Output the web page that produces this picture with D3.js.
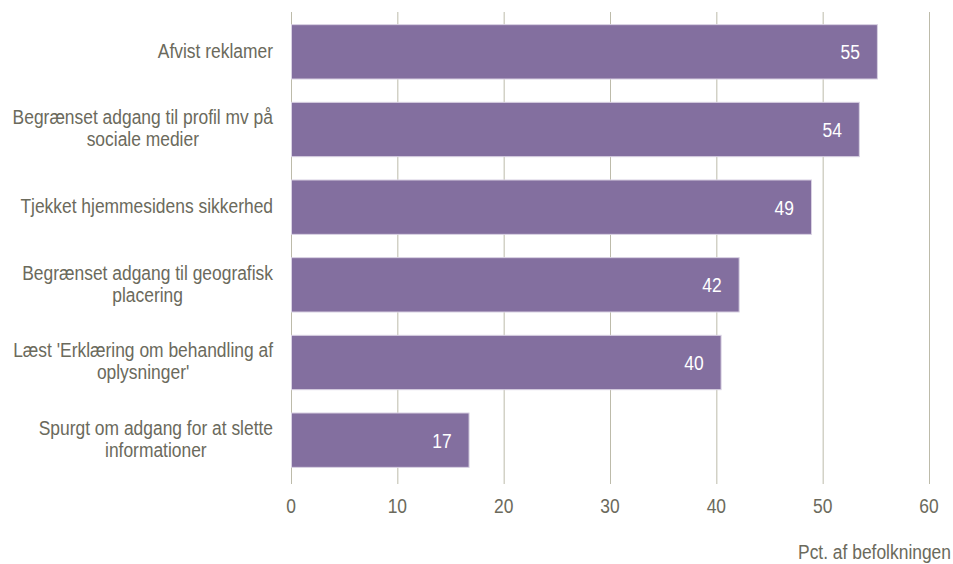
<!DOCTYPE html>
<html><head><meta charset="utf-8">
<script src="https://cdn.jsdelivr.net/npm/d3@7"></script>
<style>
body{margin:0;background:#fff;}
text{font-family:"Liberation Sans Narrow","Liberation Sans",Arial,sans-serif;}
</style></head>
<body><svg id="c" width="953" height="564"></svg>
<script>
const categories = [
  ["Afvist reklamer"],
  ["Begrænset adgang til profil mv på","sociale medier"],
  ["Tjekket hjemmesidens sikkerhed"],
  ["Begrænset adgang til geografisk","placering"],
  ["Læst 'Erklæring om behandling af","oplysninger'"],
  ["Spurgt om adgang for at slette","informationer"]
];
const values = [55.1, 53.4, 48.9, 42.1, 40.4, 16.7];
const valueLabels = ["55","54","49","42","40","17"];
const ticks = [0,10,20,30,40,50,60];
const axisTitle = "Pct. af befolkningen";

const svg = d3.select("#c");
const x = d3.scaleLinear().domain([0,60]).range([291,929]);
const y = d3.scaleBand().domain(d3.range(categories.length)).range([13,479]).paddingInner(0.3).paddingOuter(0.15);
const textCol = "#6b6a5c", gridCol = "#bdbbaa", barCol = "#836f9f";
const FS = 21, SX = 0.83;

function narrowText(parent, px, py, str, anchor, fill){
  const g = parent.append("g").attr("transform",`translate(${px},${py}) scale(${SX},1)`);
  return g.append("text").attr("x",0).attr("y",0).attr("dy","0.35em")
    .attr("text-anchor",anchor).attr("fill",fill).attr("font-size",FS).text(str);
}

// gridlines
svg.append("g").selectAll("line").data(ticks).join("line")
  .attr("x1",d=>x(d)+0.5).attr("x2",d=>x(d)+0.5).attr("y1",12).attr("y2",484)
  .attr("stroke",gridCol).attr("stroke-width",1);

// bars
svg.append("g").selectAll("rect").data(values).join("rect")
  .attr("x",x(0)+0.5).attr("y",(d,i)=>y(i)).attr("width",d=>x(d)-x(0)).attr("height",y.bandwidth())
  .attr("fill",barCol).attr("stroke","#d9d2e3").attr("stroke-width",1);

// value labels
const vg = svg.append("g");
values.forEach((d,i)=>narrowText(vg, x(d)-17, y(i)+y.bandwidth()/2, valueLabels[i], "end", "#fff"));

// tick labels
const tg = svg.append("g");
ticks.forEach(d=>narrowText(tg, x(d), 506, d, "middle", textCol));

// axis title
narrowText(svg, 951, 552, axisTitle, "end", textCol);

// category labels: block right-aligned, lines centered
const right = 273, lh = 22;
categories.forEach((lines,i)=>{
  const g = svg.append("g");
  const cy = y(i)+y.bandwidth()/2 - 1.5;
  const ts = lines.map((l,k)=>narrowText(g, 0, cy+(k-(lines.length-1)/2)*lh, l, "middle", textCol));
  const w = d3.max(ts,t=>t.node().getComputedTextLength())*SX;
  ts.forEach(t=>{
    const gg = d3.select(t.node().parentNode);
    const ty = +t.node().parentNode.getAttribute("transform").match(/,([\d.\-]+)\)/)[1];
    gg.attr("transform",`translate(${right-w/2},${ty}) scale(${SX},1)`);
  });
});
</script></body></html>
